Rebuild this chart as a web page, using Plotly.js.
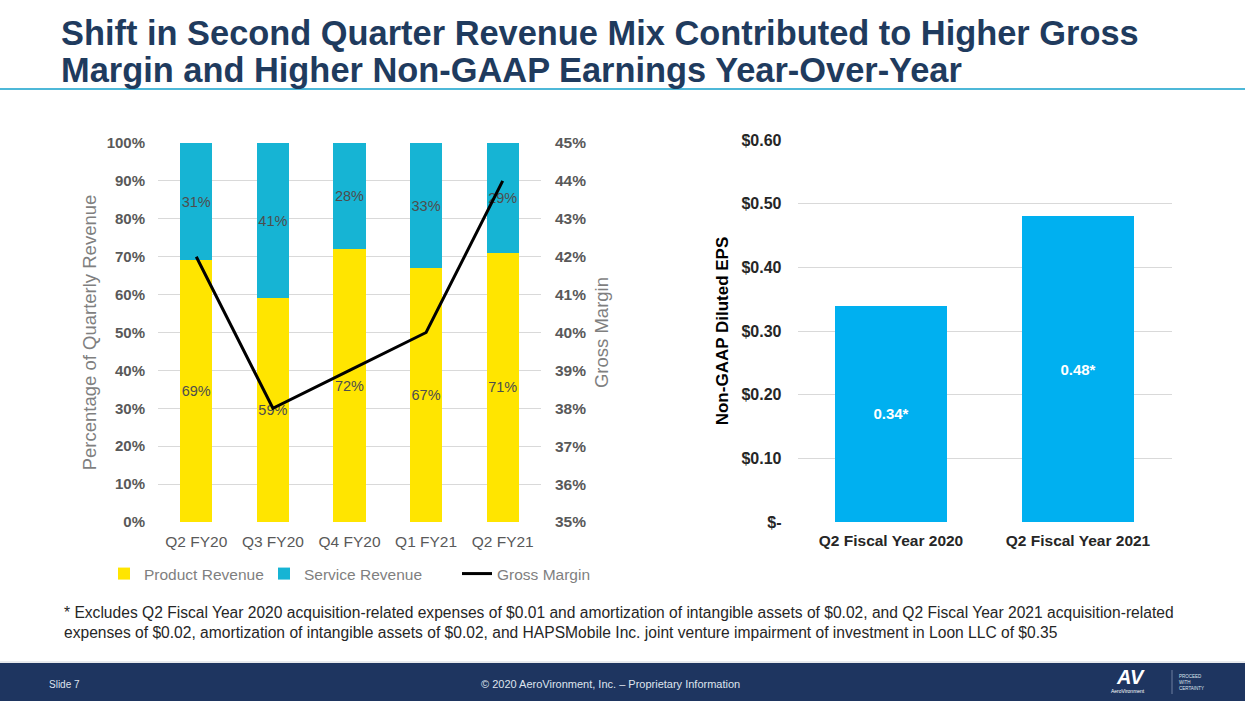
<!DOCTYPE html>
<html>
<head>
<meta charset="utf-8">
<script src="https://cdn.plot.ly/plotly-3.0.1.min.js"></script>
<style>
html,body{margin:0;padding:0;background:#fff;}
#chart{width:1245px;height:701px;}
</style>
</head>
<body>
<div id="chart"></div>
<script>
// ---- data ----
const quarters = ['Q2 FY20', 'Q3 FY20', 'Q4 FY20', 'Q1 FY21', 'Q2 FY21'];
const productRevenue = [69, 59, 72, 67, 71];
const serviceRevenue = [31, 41, 28, 33, 29];
const grossMargin = [42, 38, 39, 40, 44];

const epsCategories = ['Q2 Fiscal Year 2020', 'Q2 Fiscal Year 2021'];
const epsValues = [0.34, 0.48];
const epsTickVals = [0, 0.1, 0.2, 0.3, 0.4, 0.5, 0.6];
const epsTickText = ['$-', '$0.10', '$0.20', '$0.30', '$0.40', '$0.50', '$0.60'];

const FONT = 'Liberation Sans, Arial, sans-serif';
const W = 1245, H = 701;
const px = v => v / W;
const py = v => 1 - v / H;

const traces = [
  {
    type: 'bar', name: 'Product Revenue', x: quarters, y: productRevenue,
    xaxis: 'x', yaxis: 'y', width: 0.42,
    marker: {color: '#FFE500'},
    texttemplate: '%{y}', textposition: 'inside', insidetextanchor: 'middle',
    textangle: 0, constraintext: 'none',
    textfont: {family: FONT, size: 14.5, color: '#4d4d4d'},
    hoverinfo: 'skip', legend: 'legend'
  },
  {
    type: 'bar', name: 'Service Revenue', x: quarters, y: serviceRevenue,
    xaxis: 'x', yaxis: 'y', width: 0.42,
    marker: {color: '#16B4D4'},
    texttemplate: '%{y}', textposition: 'inside', insidetextanchor: 'middle',
    textangle: 0, constraintext: 'none',
    textfont: {family: FONT, size: 14.5, color: '#4d4d4d'},
    hoverinfo: 'skip', legend: 'legend2'
  },
  {
    type: 'scatter', mode: 'lines', name: 'Gross Margin', x: quarters, y: grossMargin,
    xaxis: 'x', yaxis: 'y2',
    line: {color: '#000000', width: 3},
    hoverinfo: 'skip', legend: 'legend3'
  },
  {
    type: 'bar', name: 'Non-GAAP Diluted EPS', x: epsCategories, y: epsValues,
    xaxis: 'x2', yaxis: 'y3', width: 0.6,
    marker: {color: '#00B0F0'},
    texttemplate: '%{y:.2f}*', textposition: 'inside', insidetextanchor: 'middle',
    textangle: 0,
    textfont: {family: FONT, size: 15, color: '#ffffff', weight: 'bold'},
    showlegend: false, hoverinfo: 'skip'
  }
];

const legendBase = {
  orientation: 'h', yanchor: 'middle', xanchor: 'left', y: py(574),
  font: {family: FONT, size: 15.5, color: '#7f7f7f'},
  bgcolor: 'rgba(0,0,0,0)', itemwidth: 30, tracegroupgap: 0
};

const layout = {
  width: W, height: H, autosize: false,
  margin: {l: 0, r: 0, t: 0, b: 0, pad: 0},
  paper_bgcolor: '#ffffff', plot_bgcolor: 'rgba(0,0,0,0)',
  font: {family: FONT},
  barmode: 'stack',
  showlegend: true,
  legend: Object.assign({}, legendBase, {x: px(104)}),
  legend2: Object.assign({}, legendBase, {x: px(264)}),
  legend3: Object.assign({}, legendBase, {x: px(457)}),
  xaxis: {
    domain: [px(158), px(541)], anchor: 'y', automargin: false,
    showgrid: false, showline: false, zeroline: false, ticks: '',
    tickfont: {family: FONT, size: 15.5, color: '#595959'},
    ticklabelstandoff: 8
  },
  yaxis: {
    domain: [py(522), py(143)], anchor: 'x', automargin: false,
    range: [0, 100], dtick: 10, ticksuffix: '%',
    showgrid: true, gridcolor: '#d9d9d9', gridwidth: 1, zeroline: false,
    showline: false, ticks: '',
    tickfont: {family: FONT, size: 15, color: '#595959', weight: 'bold'},
    ticklabelstandoff: 12,
    title: {text: 'Percentage of Quarterly Revenue', standoff: 5,
            font: {family: FONT, size: 18.5, color: '#7f7f7f'}}
  },
  yaxis2: {
    overlaying: 'y', side: 'right', anchor: 'x', automargin: false,
    range: [35, 45], dtick: 1, ticksuffix: '%',
    showgrid: false, zeroline: false, showline: false, ticks: '',
    tickfont: {family: FONT, size: 15.5, color: '#595959', weight: 'bold'},
    ticklabelstandoff: 13,
    title: {text: 'Gross Margin', standoff: 9,
            font: {family: FONT, size: 18.5, color: '#7f7f7f'}}
  },
  xaxis2: {
    domain: [px(797.5), px(1171.5)], anchor: 'y3', automargin: false,
    showgrid: false, showline: false, zeroline: false, ticks: '',
    tickfont: {family: FONT, size: 15.5, color: '#262626', weight: 'bold'},
    ticklabelstandoff: 7
  },
  yaxis3: {
    domain: [py(522), py(140)], anchor: 'x2', automargin: false,
    range: [0, 0.6], tickvals: epsTickVals, ticktext: epsTickText,
    showgrid: true, gridcolor: '#d9d9d9', gridwidth: 1, zeroline: false,
    showline: false, ticks: '',
    tickfont: {family: FONT, size: 16, color: '#262626', weight: 'bold'},
    ticklabelstandoff: 15,
    title: {text: 'Non-GAAP Diluted EPS', standoff: 8,
            font: {family: FONT, size: 17, color: '#000000', weight: 'bold'}}
  },
  shapes: [
    {type: 'line', xref: 'paper', yref: 'paper', x0: 0, x1: 1, y0: py(89), y1: py(89),
     line: {color: '#4DB8D8', width: 2}},
    {type: 'rect', xref: 'paper', yref: 'paper', x0: 0, x1: 1, y0: 0, y1: py(663),
     fillcolor: '#1E3560', line: {width: 0}, layer: 'below'},
    {type: 'line', xref: 'paper', yref: 'paper', x0: 0, x1: 1, y0: py(662), y1: py(662),
     line: {color: '#d0d4dc', width: 1}},
    {type: 'line', xref: 'paper', yref: 'paper', x0: px(1172), x1: px(1172), y0: py(670), y1: py(694),
     line: {color: '#6d7f9f', width: 1}}
  ],
  annotations: [
    {text: 'Shift in Second Quarter Revenue Mix Contributed to Higher Gross',
     xref: 'paper', yref: 'paper', x: px(59), y: py(33), xanchor: 'left', yanchor: 'middle',
     showarrow: false,
     font: {family: FONT, size: 34.4, color: '#1F3B5E', weight: 'bold'}},
    {text: 'Margin and Higher Non-GAAP Earnings Year-Over-Year',
     xref: 'paper', yref: 'paper', x: px(59), y: py(70), xanchor: 'left', yanchor: 'middle',
     showarrow: false,
     font: {family: FONT, size: 34.4, color: '#1F3B5E', weight: 'bold'}},
    {text: '* Excludes Q2 Fiscal Year 2020 acquisition-related expenses of $0.01 and amortization of intangible assets of $0.02, and Q2 Fiscal Year 2021 acquisition-related',
     xref: 'paper', yref: 'paper', x: px(62), y: py(612), xanchor: 'left', yanchor: 'middle',
     showarrow: false, font: {family: FONT, size: 15.6, color: '#262626'}},
    {text: 'expenses of $0.02, amortization of intangible assets of $0.02, and HAPSMobile Inc. joint venture impairment of investment in Loon LLC of $0.35',
     xref: 'paper', yref: 'paper', x: px(62), y: py(632), xanchor: 'left', yanchor: 'middle',
     showarrow: false, font: {family: FONT, size: 15.6, color: '#262626'}},
    {text: 'Slide 7', xref: 'paper', yref: 'paper', x: px(47), y: py(684), xanchor: 'left', yanchor: 'middle',
     showarrow: false, font: {family: FONT, size: 10, color: '#dfe4ee'}},
    {text: '© 2020 AeroVironment, Inc. – Proprietary Information', xref: 'paper', yref: 'paper',
     x: px(610), y: py(684), xanchor: 'center', yanchor: 'middle',
     showarrow: false, font: {family: FONT, size: 11, color: '#dfe4ee'}},
    {text: '<b><i>AV</i></b>', xref: 'paper', yref: 'paper', x: px(1130), y: py(677), xanchor: 'center', yanchor: 'middle',
     showarrow: false, font: {family: FONT, size: 20, color: '#ffffff'}},
    {text: 'AeroVironment', xref: 'paper', yref: 'paper', x: px(1128), y: py(691), xanchor: 'center', yanchor: 'middle',
     showarrow: false, font: {family: FONT, size: 5, color: '#ffffff'}},
    {text: 'PROCEED<br>WITH<br>CERTAINTY', xref: 'paper', yref: 'paper', x: px(1177), y: py(682), xanchor: 'left', yanchor: 'middle',
     align: 'left', showarrow: false, font: {family: FONT, size: 4.5, color: '#dfe4ee'}}
  ]
};

Plotly.newPlot('chart', traces, layout, {staticPlot: true, displayModeBar: false});
</script>
</body>
</html>
